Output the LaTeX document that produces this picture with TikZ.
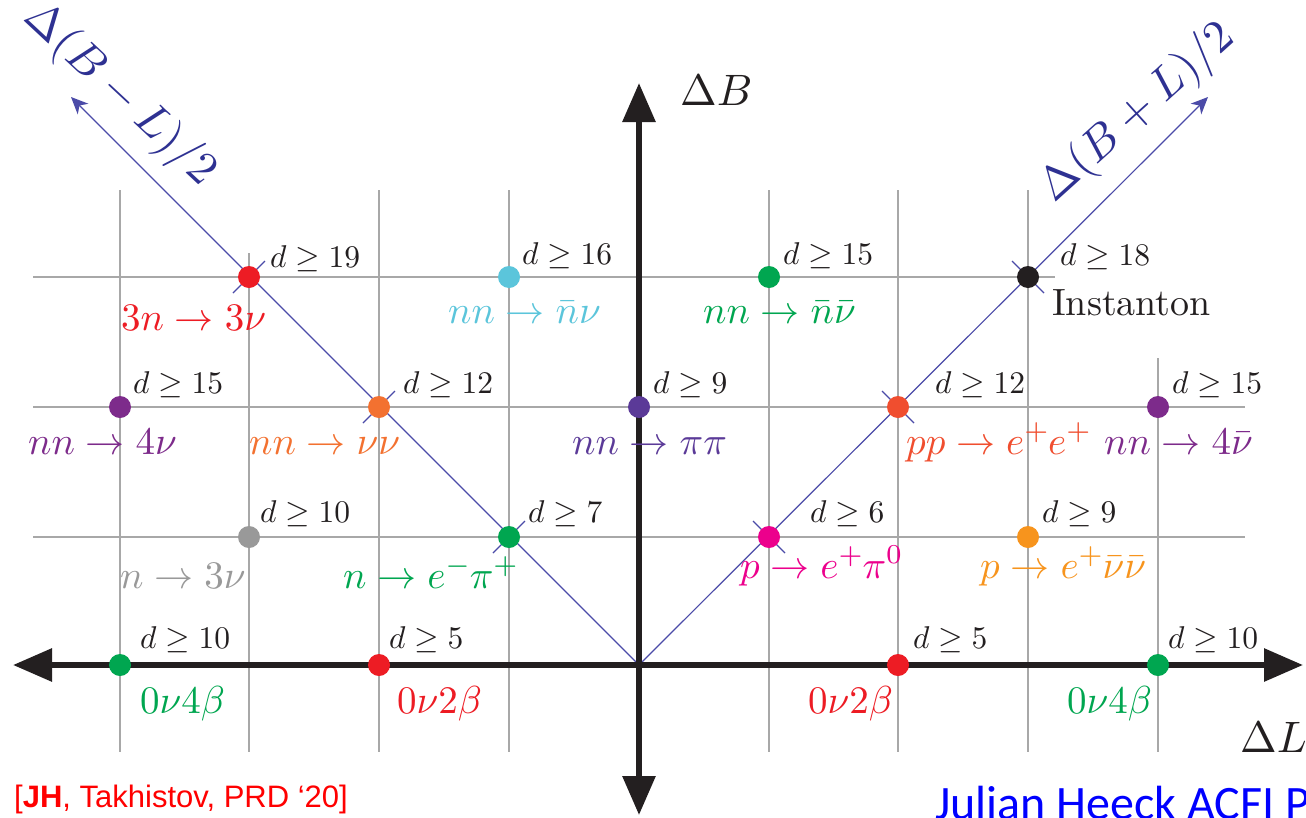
\documentclass[tikz,border=0pt]{standalone}
\usepackage{fontspec}
\usepackage{graphicx}
\usetikzlibrary{arrows.meta,calc}
\newfontfamily\citefont{Liberation Sans}
\newfontfamily\namefont{Carlito}
\definecolor{cRed}{HTML}{ED1C24}
\definecolor{cGreen}{HTML}{00A650}
\definecolor{cCyan}{HTML}{5BC5DB}
\definecolor{cPurple}{HTML}{7D2B8B}
\definecolor{cIndigo}{HTML}{5B3A98}
\definecolor{cOrange}{HTML}{F37130}
\definecolor{cRedOr}{HTML}{F04E2F}
\definecolor{cGray}{HTML}{999999}
\definecolor{cMag}{HTML}{EC008C}
\definecolor{cYel}{HTML}{F7941D}
\definecolor{diagblue}{HTML}{4B4BA8}
\definecolor{labblue}{HTML}{2E3192}
\definecolor{axblack}{HTML}{231F20}
\definecolor{gridgray}{HTML}{A8A8A8}
\definecolor{citered}{HTML}{FF0000}
\definecolor{nameblue}{HTML}{0000FF}
\newcommand\dtxt[1]{\scalebox{3.15}{$#1$}}
\newcommand\ptxt[1]{\scalebox{3.9}{$#1$}}
\newcommand\qtxt[1]{\scalebox{3.9}{$\scriptspace=0pt #1$}}
\newcommand\atxt[1]{\scalebox{4.4}{$#1$}}
\newcommand\gtxt[1]{\scalebox{4.6}{$#1$}}
\newcommand\sps[1]{^{\scriptscriptstyle #1}}
\begin{document}
\begin{tikzpicture}[x=1pt,y=-1pt,
  gridline/.style={draw=gridgray,line width=1.4pt},
  diag/.style={draw=diagblue,line width=1.2pt,-{Stealth[length=17pt,width=15pt,inset=5pt]}},
  tickmark/.style={draw=diagblue,line width=1.2pt},
  axisline/.style={draw=axblack,line width=6pt,{Triangle[length=39pt,width=32pt]}-{Triangle[length=39pt,width=32pt]}},
  dot/.style={circle,fill=#1,minimum size=22pt,inner sep=0pt},
  dlab/.style={anchor=base west,inner sep=0pt,text=axblack},
  plab/.style={anchor=base west,inner sep=0pt,text=#1},
  axlab/.style={anchor=base west,inner sep=0pt,text=axblack},
  dglab/.style={inner sep=0pt,text=labblue}
]
\useasboundingbox (0,0) rectangle (1306,817);
\fill[white] (0,0) rectangle (1306,817);

% grid
\draw[gridline] (33,277) -- (1055,277);
\draw[gridline] (33,407) -- (1245,407);
\draw[gridline] (33,537) -- (1245,537);
\foreach \x in {120,379,509,769,898,1028} \draw[gridline] (\x,190) -- (\x,752);
\draw[gridline] (249,253) -- (249,752);
\draw[gridline] (1158,358) -- (1158,752);

% coordinates
\coordinate (O) at (639,665);
\coordinate (tipL) at (71,97);
\coordinate (tipR) at (1208,97);
\coordinate (axW) at (13,665);
\coordinate (axE) at (1303,665);
\coordinate (axN) at (639,83);
\coordinate (axS) at (639,815);

% diagonals
\draw[diag] (O) -- (tipL);
\draw[diag] (O) -- (tipR);

% axes
\draw[axisline] (axW) -- (axE);
\draw[axisline] (axS) -- (axN);

% dot positions on the diagonals
\coordinate (a19) at (249,277);
\coordinate (a12) at (379,407);
\coordinate (a7)  at (509,537);
\coordinate (b6)  at (769,537);
\coordinate (b12) at (898,407);
\coordinate (b18) at (1028,277);

% ticks across diagonals (under the dots)
\foreach \n in {a19,a12,a7} \draw[tickmark] ($(\n)+(-16,16)$) -- ($(\n)+(16,-16)$);
\foreach \n in {b6,b12,b18} \draw[tickmark] ($(\n)+(-16,-16)$) -- ($(\n)+(16,16)$);

% dots
\node[dot=cRed]    (da19) at (a19) {};
\node[dot=cCyan]   (da16) at (509,277) {};
\node[dot=cGreen]  (db15) at (769,277) {};
\node[dot=axblack] (db18) at (b18) {};
\node[dot=cPurple] (da15) at (120,407) {};
\node[dot=cOrange] (da12) at (a12) {};
\node[dot=cIndigo] (dc9)  at (639,407) {};
\node[dot=cRedOr]  (db12) at (b12) {};
\node[dot=cPurple] (dc15) at (1158,407) {};
\node[dot=cGray]   (da10) at (249,537) {};
\node[dot=cGreen]  (da7)  at (a7) {};
\node[dot=cMag]    (db6)  at (b6) {};
\node[dot=cYel]    (db9)  at (1028,537) {};
\node[dot=cGreen]  (dl10) at (120,665) {};
\node[dot=cRed]    (dl5)  at (379,665) {};
\node[dot=cRed]    (dr5)  at (898,665) {};
\node[dot=cGreen]  (dr10) at (1158,665) {};

% d labels
\node[dlab] (ta19) at (270,267) {\dtxt{d\geq 19}};
\node[dlab] (ta16) at (522,264) {\dtxt{d\geq 16}};
\node[dlab] (tb15) at (783,264) {\dtxt{d\geq 15}};
\node[dlab] (tb18) at (1060,265) {\dtxt{d\geq 18}};
\node[dlab] (ta15) at (133,393) {\dtxt{d\geq 15}};
\node[dlab] (ta12) at (403,393) {\dtxt{d\geq 12}};
\node[dlab] (tc9)  at (653,393) {\dtxt{d\geq 9}};
\node[dlab] (tb12) at (935,393) {\dtxt{d\geq 12}};
\node[dlab] (tc15) at (1172,393) {\dtxt{d\geq 15}};
\node[dlab] (ta10) at (260,522) {\dtxt{d\geq 10}};
\node[dlab] (ta7)  at (528,522) {\dtxt{d\geq 7}};
\node[dlab] (tb6)  at (810,522) {\dtxt{d\geq 6}};
\node[dlab] (tb9)  at (1042,522) {\dtxt{d\geq 9}};
\node[dlab] (tl10) at (140,648) {\dtxt{d\geq 10}};
\node[dlab] (tl5)  at (389,648) {\dtxt{d\geq 5}};
\node[dlab] (tr5)  at (913,648) {\dtxt{d\geq 5}};
\node[dlab] (tr10) at (1168,648) {\dtxt{d\geq 10}};

% process labels
\node[plab=cRed]    (pa19) at (121,330) {\ptxt{3n\to 3\nu}};
\node[plab=cCyan]   (pa16) at (448,323) {\ptxt{nn\to \bar n\nu}};
\node[plab=cGreen]  (pb15) at (703,323) {\ptxt{nn\to \bar n\bar\nu}};
\node[anchor=base west,inner sep=0pt,text=axblack] (pb18) at (1052,315) {\scalebox{3.8}{Instanton}};
\node[plab=cPurple] (pa15) at (28,454) {\ptxt{nn\to 4\nu}};
\node[plab=cOrange] (pa12) at (249,454) {\ptxt{nn\to \nu\nu}};
\node[plab=cIndigo] (pc9)  at (572,454) {\ptxt{nn\to \pi\pi}};
\node[plab=cRedOr]  (pb12) at (906,454) {\qtxt{pp\to e^+e^+}};
\node[plab=cPurple] (pc15) at (1104,454) {\ptxt{nn\to 4\bar\nu}};
\node[plab=cGray]   (pa10) at (120,588) {\ptxt{n\to 3\nu}};
\node[plab=cGreen]  (pa7)  at (343,588) {\qtxt{n\to e^-\pi^+}};
\node[plab=cMag]    (pb6)  at (740,578) {\qtxt{p\to e^+\pi^0}};
\node[plab=cYel]    (pb9)  at (980,578) {\qtxt{p\to e^+\bar\nu\bar\nu}};
\node[plab=cGreen]  (pl10) at (140,713) {\ptxt{0\nu 4\beta}};
\node[plab=cRed]    (pl5)  at (397,713) {\ptxt{0\nu 2\beta}};
\node[plab=cRed]    (pr5)  at (808,713) {\ptxt{0\nu 2\beta}};
\node[plab=cGreen]  (pr10) at (1067,713) {\ptxt{0\nu 4\beta}};

% axis labels
\node[axlab] (labB) at (680,105) {\atxt{\Delta B}};
\node[axlab] (labL) at (1240,752) {\atxt{\Delta L}};
\node[dglab,rotate=-43] (labBmL) at (120,95) {\gtxt{\Delta(B-L)/2}};
\node[dglab,rotate=42] (labBpL) at (1138,113) {\gtxt{\Delta(B+L)/2}};

% footer texts
\node[anchor=base west,inner sep=0pt,text=citered,font=\citefont\fontsize{31}{36}\selectfont] (cite) at (14,807) {[\textbf{JH}, Takhistov, PRD ‘20]};
\node[anchor=base west,inner sep=0pt,text=nameblue,font=\namefont\fontsize{48}{54}\selectfont] (name) at (935,819) {Julian Heeck ACFI P};
\end{tikzpicture}
\end{document}
